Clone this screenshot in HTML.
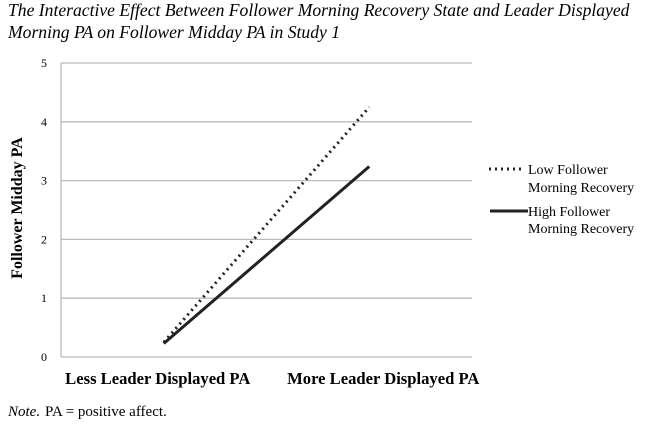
<!DOCTYPE html>
<html><head><meta charset="utf-8"><style>
body{margin:0;background:#fff;width:660px;height:435px;overflow:hidden;font-family:"Liberation Serif",serif}
</style></head><body>
<svg width="660" height="435" style="position:absolute;left:0;top:0">
<text x="8" y="16" font-size="17.6" font-style="italic">The Interactive Effect Between Follower Morning Recovery State and Leader Displayed</text>
<text x="8" y="38" font-size="17.6" font-style="italic">Morning PA on Follower Midday PA in Study 1</text>
<g id="grid"></g>
<g id="lines"></g>
<text transform="translate(22,208) rotate(-90)" text-anchor="middle" font-size="16" font-weight="bold">Follower Midday PA</text>
<g>
<line x1="489" y1="169" x2="523" y2="169" stroke="#222" stroke-width="3" stroke-dasharray="2,4"/>
<text x="528" y="174" font-size="14">Low Follower</text>
<text x="528" y="192" font-size="14">Morning Recovery</text>
<line x1="490" y1="211" x2="528" y2="211" stroke="#222" stroke-width="3"/>
<text x="528" y="216" font-size="14">High Follower</text>
<text x="528" y="233" font-size="14">Morning Recovery</text>
</g>
<text x="8" y="416" font-size="15"><tspan font-style="italic">Note.</tspan><tspan x="45">PA = positive affect.</tspan></text>
</svg>
<script>
const categories=["Less Leader Displayed PA","More Leader Displayed PA"];
const lowValues=[0.25,4.25];
const highValues=[0.23,3.24];
const yTicks=[0,1,2,3,4,5];
const X0=61,X1=472,Y0=357,Y1=63;
const ns="http://www.w3.org/2000/svg";
function xs(i){const w=(X1-X0)/categories.length;return X0+w*(i+0.5);}
function ys(v){return Y0-(v/5)*(Y0-Y1);}
const grid=document.getElementById('grid'),lines=document.getElementById('lines');
function mk(tag,attrs,parent){const e=document.createElementNS(ns,tag);for(const k in attrs)e.setAttribute(k,attrs[k]);parent.appendChild(e);return e;}
const ax=mk('line',{x1:X0,y1:Y1,x2:X0,y2:Y0,stroke:'#bbb','stroke-width':1.3},grid);


yTicks.forEach(t=>{
 const g=mk('line',{x1:X0,y1:ys(t),x2:X1,y2:ys(t),stroke:'#bbb','stroke-width':1.3},grid);
 
 
 const l=mk('text',{x:X0-14,y:ys(t)+4,'text-anchor':'end','font-size':12},grid);
 l.textContent=t;
 
 
});
categories.forEach((c,i)=>{
 const l=mk('text',{x:xs(i)-6+i*20,y:Y0+27,'text-anchor':'middle','font-size':16.6,'font-weight':'bold'},grid);
 l.textContent=c;
 
 
});
const lo=mk('line',{x1:xs(0),y1:ys(lowValues[0]),x2:xs(1),y2:ys(lowValues[1]),stroke:'#222','stroke-width':3,'stroke-dasharray':'2,4'},lines);


const hi=mk('line',{x1:xs(0),y1:ys(highValues[0]),x2:xs(1),y2:ys(highValues[1]),stroke:'#222','stroke-width':3},lines);


</script>
</body></html>
